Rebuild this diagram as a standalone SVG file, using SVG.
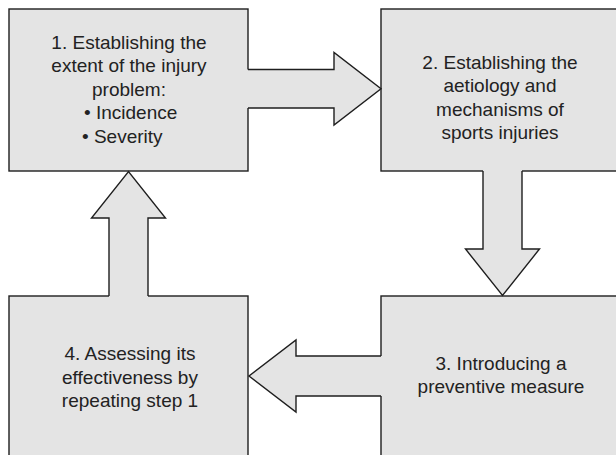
<svg xmlns="http://www.w3.org/2000/svg" width="616" height="455" viewBox="0 0 616 455">
<style>
  .box { fill: #e4e4e4; stroke: #1e1e1e; stroke-width: 1.4; }
  .afill { fill: #e4e4e4; stroke: none; }
  .aline { fill: none; stroke: #1e1e1e; stroke-width: 1.4; stroke-linejoin: miter; }
  .t { font-family: "Liberation Sans", Arial, sans-serif; font-size: 19px; fill: #222; text-anchor: middle; }
  .ts { font-family: "Liberation Sans", Arial, sans-serif; font-size: 19px; fill: #222; text-anchor: start; }
</style>
<rect width="616" height="455" fill="#ffffff"/>
<g id="node1">
  <rect class="box" x="9" y="9" width="239" height="162"/>
  <text class="t" x="129" y="48.5">1. Establishing the</text>
  <text class="t" x="129" y="72">extent of the injury</text>
  <text class="t" x="129" y="95.5">problem:</text>
  <text class="ts" x="84" y="119">• Incidence</text>
  <text class="ts" x="82" y="142.5">• Severity</text>
</g>
<g id="node2">
  <rect class="box" x="381" y="9" width="250" height="162"/>
  <text class="t" x="500" y="68.5">2. Establishing the</text>
  <text class="t" x="500" y="92">aetiology and</text>
  <text class="t" x="500" y="115.5">mechanisms of</text>
  <text class="t" x="500" y="139">sports injuries</text>
</g>
<g id="node3">
  <rect class="box" x="381" y="296" width="250" height="200"/>
  <text class="t" x="501" y="369.5">3. Introducing a</text>
  <text class="t" x="501" y="393">preventive measure</text>
</g>
<g id="node4">
  <rect class="box" x="9" y="296" width="239" height="200"/>
  <text class="t" x="130" y="360">4. Assessing its</text>
  <text class="t" x="130" y="383.5">effectiveness by</text>
  <text class="t" x="130" y="407">repeating step 1</text>
</g>
<g id="connectors">
  <g id="arrow1to2">
    <path class="afill" d="M246,69.5 H334 V52.5 L381,88.75 L334,125 V108 H246 Z"/>
    <path class="aline" d="M248,69.5 H334 V52.5 L381,88.75 L334,125 V108 H248"/>
  </g>
  <g id="arrow2to3">
    <path class="afill" d="M483,169 V249 H465.5 L502.5,295.5 L539.5,249 H522 V169 Z"/>
    <path class="aline" d="M483,171 V249 H465.5 L502.5,295.5 L539.5,249 H522 V171"/>
  </g>
  <g id="arrow3to4">
    <path class="afill" d="M383,356 H296 V340 L249,376 L296,412 V396 H383 Z"/>
    <path class="aline" d="M381,356 H296 V340 L249,376 L296,412 V396 H381"/>
  </g>
  <g id="arrow4to1">
    <path class="afill" d="M109,298 V218 H91.5 L128.5,171.5 L165.5,218 H148 V298 Z"/>
    <path class="aline" d="M109,296 V218 H91.5 L128.5,171.5 L165.5,218 H148 V296"/>
  </g>
</g>
</svg>
